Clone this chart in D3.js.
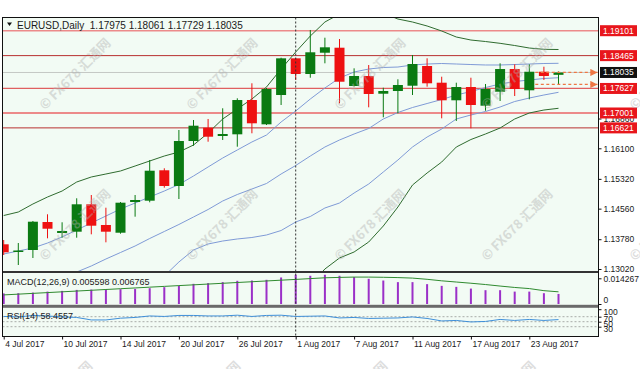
<!DOCTYPE html>
<meta charset="utf-8">
<style>
body { margin: 0; background: #fff; }
text { font-family: "Liberation Sans", Arial, sans-serif; font-size: 8.5px; fill: #1a1a1a; }
.wm { font-family: "Noto Sans CJK SC", "Noto Sans", sans-serif; font-size: 13px; font-weight: bold; fill: #b0b0b0; opacity: .42; }
</style>
<body>
<svg width="640" height="369"></svg>
<script src="https://d3js.org/d3.v7.min.js"></script>
<script>

// ---- data ----
var dates = ["4 Jul","5 Jul","6 Jul","7 Jul","10 Jul","11 Jul","12 Jul","13 Jul","14 Jul","17 Jul",
  "18 Jul","19 Jul","20 Jul","21 Jul","24 Jul","25 Jul","26 Jul","27 Jul","28 Jul","31 Jul",
  "1 Aug","2 Aug","3 Aug","4 Aug","7 Aug","8 Aug","9 Aug","10 Aug","11 Aug","14 Aug",
  "15 Aug","16 Aug","17 Aug","18 Aug","21 Aug","22 Aug","23 Aug","24 Aug","25 Aug"];

var open  = [1.13650,1.13454,1.13505,1.14219,1.13939,1.13972,1.14671,1.14143,1.13946,1.14730,
  1.14763,1.15539,1.15138,1.16286,1.16626,1.16414,1.16457,1.17332,1.16712,1.17460,
  1.18396,1.17996,1.18539,1.18667,1.17690,1.17945,1.17493,1.17562,1.17697,1.18200,
  1.17774,1.17325,1.17664,1.17187,1.17544,1.18123,1.17580,1.18054,1.17975];
var high  = [1.13760,1.13683,1.14245,1.14416,1.14212,1.14824,1.14908,1.14584,1.14730,1.14908,
  1.15801,1.15590,1.16567,1.16822,1.16848,1.17121,1.17376,1.17759,1.17639,1.18412,
  1.18404,1.19119,1.18922,1.18889,1.18141,1.18225,1.17646,1.17861,1.18481,1.18396,
  1.17927,1.17774,1.17901,1.17741,1.18269,1.18243,1.18243,1.18182,1.18061];
var low   = [1.13377,1.13122,1.13301,1.13803,1.13819,1.13819,1.13905,1.13701,1.13921,1.14355,
  1.14722,1.15095,1.14806,1.16166,1.16268,1.16312,1.16141,1.16483,1.16694,1.17205,
  1.17843,1.17901,1.18269,1.17248,1.17677,1.17146,1.16891,1.16993,1.17460,1.17672,
  1.16865,1.16797,1.16610,1.17059,1.17307,1.17434,1.17350,1.17843,1.17729];
var close = [1.13446,1.13492,1.14227,1.14048,1.13990,1.14671,1.14125,1.13972,1.14712,1.14781,
  1.15528,1.15138,1.16286,1.16677,1.16396,1.16465,1.17332,1.16738,1.17613,1.18396,
  1.17996,1.18550,1.18677,1.17799,1.17945,1.17486,1.17562,1.17715,1.18251,1.17759,
  1.17325,1.17664,1.17205,1.17613,1.18123,1.17613,1.18054,1.17945,1.18035];

// bollinger style bands (outer green, inner blue, middle blue)
var bandUp2 = [1.14385,1.14474,1.14679,1.14857,1.15010,1.15240,1.15368,1.15444,1.15521,1.15648,
  1.15776,1.15903,1.16005,1.16184,1.16490,1.16848,1.17103,1.17358,1.17664,1.18123,
  1.18557,1.18965,1.19323,1.19527,1.19629,1.19654,1.19552,1.19399,1.19323,1.19221,
  1.19093,1.18940,1.18863,1.18825,1.18779,1.18723,1.18659,1.18626,1.18621];
var bandUp1 = [1.13403,1.13479,1.13556,1.13683,1.13837,1.14015,1.14194,1.14372,1.14551,1.14704,
  1.14857,1.15010,1.15176,1.15393,1.15623,1.15852,1.16057,1.16261,1.16439,1.16771,
  1.17052,1.17358,1.17639,1.17894,1.18047,1.18123,1.18162,1.18174,1.18226,1.18251,
  1.18264,1.18251,1.18238,1.18226,1.18226,1.18238,1.18251,1.18264,1.18269];
var bandMid = [null,null,null,null,1.12765,1.12943,1.13097,1.13275,1.13441,1.13607,
  1.13798,1.13977,1.14156,1.14347,1.14538,1.14755,1.14921,1.15061,1.15202,1.15444,
  1.15661,1.15903,1.16133,1.16312,1.16465,1.16605,1.16848,1.17013,1.17141,1.17243,
  1.17345,1.17460,1.17549,1.17651,1.17741,1.17804,1.17843,1.17881,1.17901];
var bandLo1 = [null,null,null,null,null,null,null,null,null,null,
  null,1.12841,1.13199,1.13505,1.13658,1.13734,1.13786,1.13824,1.13888,1.14002,
  1.14219,1.14360,1.14577,1.14704,1.14959,1.15189,1.15495,1.15801,1.16133,1.16388,
  1.16592,1.16848,1.16950,1.17039,1.17154,1.17294,1.17383,1.17460,1.17529];
var bandLo2 = [null,null,null,null,null,null,null,null,null,null,
  null,null,null,null,null,null,null,null,null,null,
  null,1.12612,1.13020,1.13301,1.13454,1.13709,1.14117,1.14602,1.15163,1.15470,
  1.15750,1.16133,1.16324,1.16465,1.16618,1.16848,1.17001,1.17077,1.17121];

var levels = [1.19101, 1.18465, 1.17627, 1.17001, 1.16621];
var lastPrice = 1.18035;
var priceTicks = [1.13020,1.13780,1.14560,1.15320,1.16100,1.16860];

var macdHist = [0.00588,0.00599,0.00632,0.00688,0.00727,0.00783,0.00800,0.00800,0.00823,0.00839,
  0.00879,0.00935,0.01007,0.01119,0.01158,0.01214,0.01287,0.01304,0.01343,0.01472,
  0.01623,0.01567,0.01623,0.01567,0.01494,0.01399,0.01304,0.01214,0.01214,0.01102,
  0.01007,0.00951,0.00856,0.00767,0.00767,0.00688,0.00688,0.00600,0.005598];
var macdSignal = [0.00504,0.00547,0.00590,0.00633,0.00676,0.00719,0.00762,0.00805,0.00848,0.00891,
  0.00935,0.00978,0.01021,0.01064,0.01107,0.01150,0.01193,0.01236,0.01279,0.01322,
  0.01365,0.01410,0.01455,0.01477,0.01494,0.01494,0.01483,0.01466,0.01438,0.01371,
  0.01287,0.01220,0.01153,0.01080,0.00996,0.00918,0.00856,0.00740,0.006765];
var macdTicks = [0, 0.014267];

var rsi = [71,69,75,73,69,67,57,57,64,67,73,71,75,75,73,73,76,71,75,76,
  71,72,73,65,67,63,64,65,69,63,53,55,49,51,59,55,59,55,58.4557];
var rsiLevels = [70, 50, 30];
var rsiTicks = [100, 70, 50, 30];

var axisDates = ["4 Jul","10 Jul","14 Jul","20 Jul","26 Jul","1 Aug","7 Aug","11 Aug","17 Aug","23 Aug"];
var markerDate = "1 Aug";

// ---- layout ----
var svg = d3.select("svg");
var L = 2.5, R = 598.5;
var mainTop = 17.5, mainBot = 271, macdTop = 273, macdBot = 304.8, rsiTop = 307.8, rsiBot = 336.5;
var bg = "#f2fbf4";

var x = d3.scalePoint().domain(dates).range([3.7, 558.5]);
var y = d3.scaleLinear().domain([1.1302, 1.19101]).range([269, 30.7]);
var ym = d3.scaleLinear().domain([0, 0.014267]).range([304, 278.3]);
var yr = d3.scaleLinear().domain([0, 100]).range([334.2, 309.2]);

// panel backgrounds + clips
[[mainTop, mainBot, "cMain"], [macdTop, macdBot, "cMacd"], [rsiTop, rsiBot, "cRsi"]].forEach(function(p){
  svg.append("rect").attr("x", L).attr("y", p[0]).attr("width", R - L).attr("height", p[1] - p[0]).attr("fill", bg);
  svg.append("clipPath").attr("id", p[2]).append("rect")
    .attr("x", L + 0.5).attr("y", p[0]).attr("width", R - L - 0.5).attr("height", p[1] - p[0]);
});

var gMain = svg.append("g").attr("clip-path", "url(#cMain)");

// key levels
var levelColor = ["#ec8a8a", "#b83030", "#e06060", "#ec8a8a", "#b83030"];
var levelWidth = [1.6, 1, 1.2, 1.8, 1];
gMain.selectAll(".lvl").data(levels).enter().append("line")
  .attr("x1", L).attr("x2", R)
  .attr("y1", d => y(d)).attr("y2", d => y(d))
  .attr("stroke", (d,i) => levelColor[i]).attr("stroke-width", (d,i) => levelWidth[i]);

gMain.append("line").attr("x1", L).attr("x2", R)
  .attr("y1", y(lastPrice)).attr("y2", y(lastPrice))
  .attr("stroke", "#c4c8c4").attr("stroke-width", 1);

// bands
function bandLine(arr, color){
  var line = d3.line().defined(d => d != null)
    .x((d,i) => x(dates[i])).y(d => y(d));
  gMain.append("path").datum(arr).attr("d", line)
    .attr("fill", "none").attr("stroke", color).attr("stroke-width", 1);
}
bandLine(bandUp2, "#2f6b2f");
bandLine(bandUp1, "#7f9ad6");
bandLine(bandMid, "#7f9ad6");
bandLine(bandLo1, "#7f9ad6");
bandLine(bandLo2, "#2f6b2f");

// candles
var up = "#0a7a12", dn = "#ee1111";
var candles = gMain.selectAll(".c").data(dates).enter().append("g");
candles.append("line")
  .attr("x1", d => x(d)).attr("x2", d => x(d))
  .attr("y1", (d,i) => y(high[i])).attr("y2", (d,i) => y(low[i]))
  .attr("stroke", (d,i) => close[i] >= open[i] ? up : dn).attr("stroke-width", 1);
candles.append("rect")
  .attr("x", d => x(d) - 5).attr("width", 10)
  .attr("y", (d,i) => y(Math.max(open[i], close[i])))
  .attr("height", (d,i) => Math.max(1.5, Math.abs(y(open[i]) - y(close[i]))))
  .attr("fill", (d,i) => close[i] >= open[i] ? up : dn);

// dashed arrows at last bar
var arrowLevels = [lastPrice, low[low.length - 1]];
svg.append("defs").append("marker").attr("id", "arr")
  .attr("viewBox", "0 0 6 6").attr("refX", 6).attr("refY", 3)
  .attr("markerWidth", 6).attr("markerHeight", 6).attr("orient", "auto")
  .append("path").attr("d", "M0,0L6,3L0,6Z").attr("fill", "#ee7744");
gMain.selectAll(".arw").data(arrowLevels).enter().append("line")
  .attr("x1", x(dates[dates.length - 3]) + 6).attr("x2", R - 1)
  .attr("y1", d => y(d)).attr("y2", d => y(d))
  .attr("stroke", "#ee7744").attr("stroke-width", 1.2).attr("stroke-dasharray", "3,2.5")
  .attr("marker-end", "url(#arr)");

// header
svg.append("path").attr("d", "M7,22.5L12,22.5L9.5,26Z").attr("fill", "#111");
svg.append("text").attr("x", 17).attr("y", 28.5)
  .text("EURUSD,Daily  " + [open, high, low, close].map(a => a[a.length - 1].toFixed(5)).join(" "))
  .attr("xml:space", "preserve").style("font-size", "10px");

// MACD panel
var gMacd = svg.append("g").attr("clip-path", "url(#cMacd)");
gMacd.selectAll(".h").data(macdHist).enter().append("rect")
  .attr("x", (d,i) => x(dates[i]) - 1).attr("width", 2)
  .attr("y", d => ym(d)).attr("height", d => ym(0) - ym(d))
  .attr("fill", "#9b30c8");
gMacd.append("path").datum(macdSignal)
  .attr("d", d3.line().x((d,i) => x(dates[i])).y(d => ym(d)))
  .attr("fill", "none").attr("stroke", "#2f8a2f").attr("stroke-width", 1);
svg.append("text").attr("x", 7).attr("y", 284.5).style("font-size", "9px")
  .text("MACD(12,26,9) " + macdHist[macdHist.length - 1].toFixed(6) + " " + macdSignal[macdSignal.length - 1].toFixed(6));

// RSI panel
var gRsi = svg.append("g").attr("clip-path", "url(#cRsi)");
gRsi.selectAll(".rl").data(rsiLevels).enter().append("line")
  .attr("x1", L).attr("x2", R).attr("y1", d => yr(d)).attr("y2", d => yr(d))
  .attr("stroke", "#a8aca8").attr("stroke-dasharray", "2,2");
gRsi.append("path").datum(rsi)
  .attr("d", d3.line().x((d,i) => x(dates[i])).y(d => yr(d)))
  .attr("fill", "none").attr("stroke", "#3f8fd8").attr("stroke-width", 1);
svg.append("text").attr("x", 7).attr("y", 319).style("font-size", "9px").text("RSI(14) " + rsi[rsi.length - 1].toFixed(4));

// marker vertical
svg.append("line").attr("x1", x(markerDate)).attr("x2", x(markerDate))
  .attr("y1", mainTop).attr("y2", rsiBot)
  .attr("stroke", "#333").attr("stroke-dasharray", "2,2");

// frames and separators
svg.append("rect").attr("x", L).attr("y", mainBot).attr("width", R - L).attr("height", 2).attr("fill", "#333");
svg.append("rect").attr("x", L).attr("y", macdBot).attr("width", R - L).attr("height", 3).attr("fill", "#6a6a6a");
svg.append("rect").attr("x", L).attr("y", mainTop).attr("width", R - L).attr("height", rsiBot - mainTop)
  .attr("fill", "none").attr("stroke", "#111").attr("stroke-width", 1);

// right axes
function styleAxis(g){
  g.select(".domain").remove();
  g.selectAll(".tick line").attr("stroke", "#111");
  g.selectAll(".tick text").attr("fill", "#1a1a1a").style("font-size", "8.5px")
    .style("font-family", '"Liberation Sans", Arial, sans-serif');
}
svg.append("g").attr("transform", "translate(" + R + ",0)")
  .call(d3.axisRight(y).tickValues(priceTicks).tickFormat(d3.format(".5f")).tickSize(3).tickPadding(2))
  .call(styleAxis);
svg.append("g").attr("transform", "translate(" + R + ",0)")
  .call(d3.axisRight(ym).tickValues(macdTicks).tickFormat(d => d === 0 ? "0" : d3.format(".6f")(d)).tickSize(3).tickPadding(2))
  .call(styleAxis)
  .selectAll(".tick text").attr("dy", d => d === 0 ? "-0.2em" : "0.32em");
svg.append("g").attr("transform", "translate(" + R + ",0)")
  .call(d3.axisRight(yr).tickValues(rsiTicks).tickSize(3).tickPadding(2))
  .call(styleAxis)
  .selectAll(".tick text").attr("dy", "0.6em");

// level labels on the axis
var lab = svg.selectAll(".lab").data(levels.concat([lastPrice])).enter().append("g")
  .attr("transform", d => "translate(" + (R + 1.5) + "," + y(d) + ")");
lab.append("rect").attr("x", 0).attr("y", -5.5).attr("width", 37).attr("height", 11)
  .attr("fill", d => d === lastPrice ? "#111" : "#e8161c");
lab.append("text").attr("x", 3).attr("dy", "0.34em").attr("fill", "#fff").style("fill", "#fff")
  .text(d => d.toFixed(5));

// bottom date axis
var gx = svg.append("g").attr("transform", "translate(0," + rsiBot + ")")
  .call(d3.axisBottom(x).tickValues(axisDates).tickSize(3).tickFormat(d => d + " 2017"));
gx.select(".domain").remove();
gx.selectAll(".tick line").attr("stroke", "#111");
gx.selectAll(".tick text").attr("text-anchor", "start").attr("dx", "1").attr("dy", "0.55em")
  .attr("fill", "#1a1a1a").style("font-size", "8.5px").style("font-family", '"Liberation Sans", Arial, sans-serif');

// watermark
var wmPos = [[75,74],[222,74],[370,74],[517,74],[665,74],[75,225],[222,225],[370,225],[517,225],[665,225],[57,397],[205,397],[352,397],[500,397]];
svg.selectAll(".wm").data(wmPos).enter().append("text").attr("class", "wm")
  .attr("text-anchor", "middle").attr("dy", "0.35em")
  .attr("transform", d => "translate(" + d[0] + "," + d[1] + ") rotate(-45)")
  .text("\u00a9 FX678 \u6c47\u901a\u7f51");

</script>
</body>
